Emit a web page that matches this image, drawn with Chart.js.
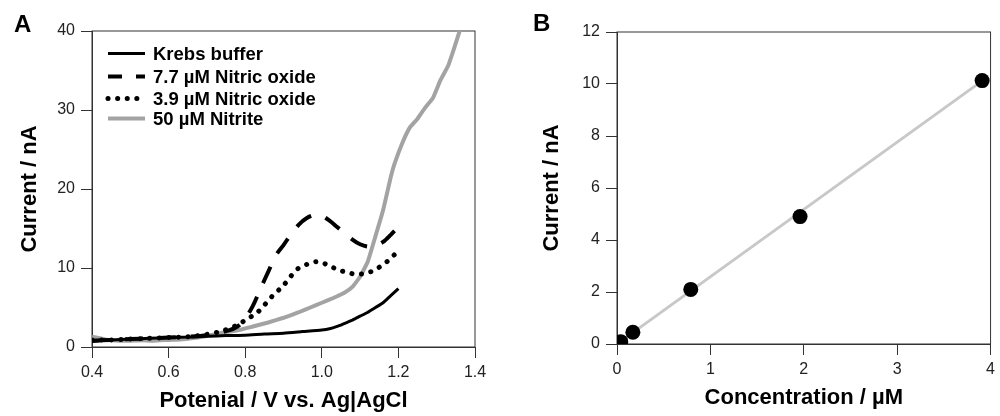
<!DOCTYPE html>
<html>
<head>
<meta charset="utf-8">
<script src="https://cdn.jsdelivr.net/npm/chart.js@4"></script>
<style>
  body { margin: 0; background: #fff; }
  #wrap { position: relative; width: 1000px; height: 416px; }
  .panel { position: absolute; top: 0; width: 500px; height: 416px; }
  .tag { position: absolute; font: bold 24px "Liberation Sans", Arial, sans-serif; color: #000; }
</style>
</head>
<body>
<div id="wrap">
  <div class="panel" style="left:0"><canvas id="chartA" width="500" height="416"></canvas></div>
  <div class="panel" style="left:500px"><canvas id="chartB" width="500" height="416"></canvas></div>
  <div class="tag" style="left:14px; top:10px">A</div>
  <div class="tag" style="left:533px; top:9px">B</div>
</div>
<script>
Chart.defaults.font.family = '"Liberation Sans", Arial, sans-serif';

// Panel A - voltammograms
var krebsV = [0.40, 0.42, 0.45, 0.50, 0.55, 0.60, 0.65, 0.70, 0.75, 0.80, 0.85, 0.90, 0.95, 1.00, 1.02, 1.04, 1.06, 1.08, 1.10, 1.12, 1.14, 1.16, 1.18, 1.20];
var krebsI = [0.7, 0.8, 0.9, 1.0, 1.1, 1.2, 1.25, 1.35, 1.45, 1.5, 1.65, 1.75, 1.95, 2.15, 2.3, 2.6, 3.0, 3.4, 3.9, 4.4, 5.0, 5.6, 6.5, 7.4];

var no77V = [0.40, 0.45, 0.50, 0.55, 0.60, 0.65, 0.70, 0.75, 0.78, 0.80, 0.82, 0.84, 0.86, 0.88, 0.90, 0.92, 0.94, 0.96, 0.98, 1.00, 1.02, 1.04, 1.06, 1.08, 1.10, 1.12, 1.14, 1.16, 1.18, 1.20];
var no77I = [0.8, 0.9, 1.0, 1.1, 1.2, 1.3, 1.5, 2.0, 2.6, 3.6, 5.2, 7.4, 9.5, 11.6, 12.9, 14.3, 15.5, 16.3, 16.7, 16.6, 16.0, 15.2, 14.4, 13.6, 13.0, 12.7, 12.8, 13.3, 14.2, 15.2];

var no39V = [0.40, 0.45, 0.50, 0.55, 0.60, 0.65, 0.70, 0.73, 0.75, 0.78, 0.80, 0.83, 0.85, 0.87, 0.90, 0.92, 0.94, 0.97, 0.99, 1.02, 1.04, 1.07, 1.09, 1.12, 1.14, 1.17, 1.19];
var no39I = [0.9, 0.9, 1.0, 1.1, 1.2, 1.3, 1.6, 1.9, 2.2, 2.8, 3.4, 4.3, 5.3, 6.4, 7.8, 9.0, 10.0, 10.6, 10.8, 10.3, 9.8, 9.4, 9.2, 9.4, 9.8, 10.8, 11.7];

var nitriteV = [0.40, 0.42, 0.44, 0.47, 0.50, 0.53, 0.56, 0.60, 0.63, 0.66, 0.70, 0.74, 0.78, 0.82, 0.86, 0.90, 0.94, 0.97, 1.00, 1.03, 1.06, 1.08, 1.10, 1.12, 1.14, 1.16, 1.18, 1.19, 1.21, 1.23, 1.25, 1.27, 1.29, 1.31, 1.33, 1.34, 1.35, 1.36];
var nitriteI = [1.3, 1.1, 0.9, 0.8, 0.8, 0.85, 0.8, 0.9, 0.95, 1.1, 1.4, 1.8, 2.1, 2.6, 3.1, 3.7, 4.4, 5.0, 5.6, 6.2, 6.9, 7.6, 8.9, 10.8, 14.0, 17.3, 21.5, 23.2, 25.8, 27.8, 28.9, 30.3, 31.5, 33.8, 35.6, 37.0, 38.5, 40.0];

var labelsA = ['Krebs buffer', '7.7 µM Nitric oxide', '3.9 µM Nitric oxide', '50 µM Nitrite'];

// Panel B - calibration
var concB = [0.04, 0.17, 0.79, 1.96, 3.91];
var currB = [0.09, 0.45, 2.1, 4.9, 10.13];
var fitX = [0.04, 3.91];
var fitY = [0.1, 10.12];

function pts(xs, ys) {
  return xs.map(function (x, i) { return { x: x, y: ys[i] }; });
}

var frame = {
  id: 'frame',
  beforeDatasetsDraw: function (chart) {
    var a = chart.chartArea, c = chart.ctx;
    c.save();
    c.strokeStyle = '#333';
    c.lineWidth = 1;
    c.strokeRect(a.left, a.top, a.right - a.left, a.bottom - a.top);
    c.restore();
  }
};

// legend drawn inside the plot, top-left
var legendA = {
  id: 'legendA',
  afterDraw: function (chart) {
    var a = chart.chartArea, c = chart.ctx;
    var rows = [22.5, 45.5, 67.5, 87.5];
    chart.data.datasets.forEach(function (ds, i) {
      var y = a.top + rows[i];
      c.save();
      c.strokeStyle = ds.borderColor;
      c.lineWidth = ds.borderWidth;
      c.lineCap = ds.borderCapStyle || 'butt';
      c.setLineDash(ds.legendDash || ds.borderDash || []);
      c.beginPath();
      c.moveTo(a.left + 16, y);
      c.lineTo(a.left + 53, y);
      c.stroke();
      c.setLineDash([]);
      c.fillStyle = '#000';
      c.font = 'bold 18.5px "Liberation Sans", Arial, sans-serif';
      c.textBaseline = 'middle';
      c.textAlign = 'left';
      c.fillText(ds.label, a.left + 61, y + 1);
      c.restore();
    });
  }
};

var axisCommon = {
  type: 'linear',
  grid: { drawOnChartArea: false, tickLength: 11, color: '#333' },
  border: { color: '#333' }
};

new Chart(document.getElementById('chartA'), {
  type: 'line',
  data: {
    datasets: [
      { label: labelsA[0], data: pts(krebsV, krebsI), borderColor: '#000', borderWidth: 3, pointRadius: 0, tension: 0.2 },
      { label: labelsA[1], data: pts(no77V, no77I), borderColor: '#000', borderWidth: 4, borderDash: [18, 15], legendDash: [14, 14], pointRadius: 0, tension: 0.3 },
      { label: labelsA[2], data: pts(no39V, no39I), borderColor: '#000', borderWidth: 5, borderDash: [0.1, 9.5], borderCapStyle: 'round', pointRadius: 0, tension: 0.3 },
      { label: labelsA[3], data: pts(nitriteV, nitriteI), borderColor: '#a3a3a3', borderWidth: 4, pointRadius: 0, tension: 0.1 }
    ]
  },
  options: {
    responsive: false,
    animation: false,
    layout: { padding: { left: 0, top: 31, right: 25, bottom: 0 } },
    plugins: { legend: { display: false }, tooltip: { enabled: false } },
    scales: {
      x: Object.assign({}, axisCommon, {
        min: 0.4, max: 1.4,
        afterFit: function (s) { s.height = 69; },
        ticks: { stepSize: 0.2, padding: 5, color: '#222', font: { size: 16 }, maxRotation: 0, autoSkip: false,
                 callback: function (v) { return v.toFixed(1); } },
        title: { display: true, text: 'Potenial / V vs. Ag|AgCl', color: '#000', font: { size: 22, weight: 'bold' }, padding: { top: 0, bottom: 2 } }
      }),
      y: Object.assign({}, axisCommon, {
        min: 0, max: 40,
        afterFit: function (s) { s.width = 92; },
        ticks: { stepSize: 10, padding: 6, color: '#222', font: { size: 16 } },
        title: { display: true, text: 'Current / nA', color: '#000', font: { size: 22, weight: 'bold' }, padding: { top: 17, bottom: 0 } }
      })
    }
  },
  plugins: [frame, legendA]
});

new Chart(document.getElementById('chartB'), {
  type: 'scatter',
  data: {
    datasets: [
      { label: 'Data', data: pts(concB, currB), backgroundColor: '#000', borderWidth: 0, pointRadius: 7.5 },
      { label: 'Fit', data: pts(fitX, fitY), showLine: true, borderColor: '#c8c8c8', borderWidth: 3, pointRadius: 0 }
    ]
  },
  options: {
    responsive: false,
    animation: false,
    layout: { padding: { left: 0, top: 32, right: 7, bottom: 0 } },
    plugins: { legend: { display: false }, tooltip: { enabled: false } },
    scales: {
      x: Object.assign({}, axisCommon, {
        min: 0, max: 4,
        afterFit: function (s) { s.height = 72; },
        ticks: { stepSize: 1, padding: 5, color: '#222', font: { size: 16 }, maxRotation: 0 },
        title: { display: true, text: 'Concentration / µM', color: '#000', font: { size: 22, weight: 'bold' }, padding: { top: 0, bottom: 5 } }
      }),
      y: Object.assign({}, axisCommon, {
        min: 0, max: 12,
        afterFit: function (s) { s.width = 117; },
        ticks: { stepSize: 2, padding: 6, color: '#222', font: { size: 16 } },
        title: { display: true, text: 'Current / nA', color: '#000', font: { size: 22, weight: 'bold' }, padding: { top: 39, bottom: 0 } }
      })
    }
  },
  plugins: [frame]
});
</script>
</body>
</html>
